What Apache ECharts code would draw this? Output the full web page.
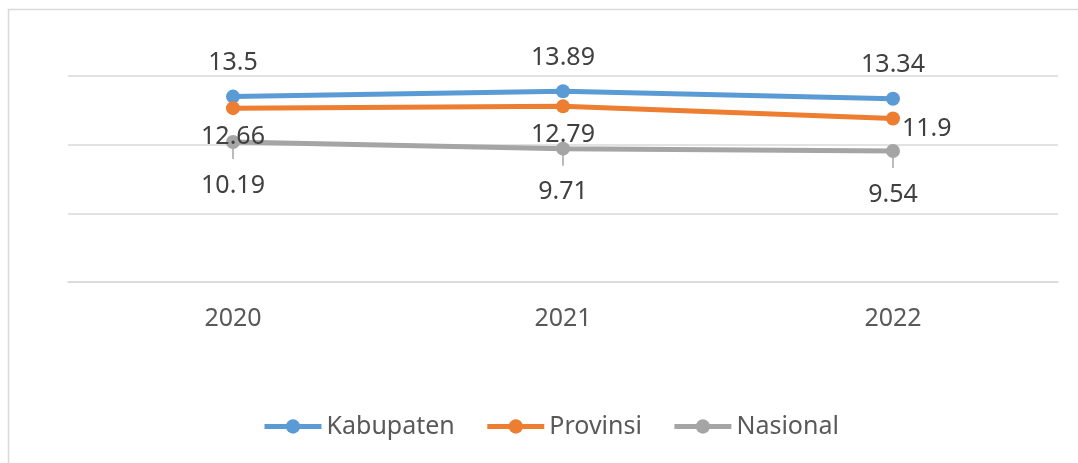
<!DOCTYPE html>
<html>
<head>
<meta charset="utf-8">
<script src="https://cdn.jsdelivr.net/npm/echarts@6/dist/echarts.min.js"></script>
<style>
  html, body { margin: 0; padding: 0; background: #fff; }
  #main { width: 1078px; height: 463px; }
</style>
</head>
<body>
<div id="main"></div>
<script>
// data
var years = ['2020', '2021', '2022'];
var kabupaten = [13.5, 13.89, 13.34];
var provinsi = [12.66, 12.79, 11.9];
var nasional = [10.19, 9.71, 9.54];

var FONT = 'Noto Sans';
var chart = echarts.init(document.getElementById('main'));

// label style shared by all series
function lbl(pos, dist) {
  return {
    show: true,
    position: pos,
    distance: dist,
    fontFamily: FONT,
    fontSize: 25,
    color: '#404040'
  };
}

function lineSeries(name, data, color, label) {
  return {
    name: name,
    type: 'line',
    data: data,
    symbol: 'circle',
    symbolSize: 14,
    color: color,
    lineStyle: { width: 5, color: color },
    itemStyle: { color: color },
    label: label,
    z: 3
  };
}

var sKab = lineSeries('Kabupaten', kabupaten, '#5B9BD5', lbl('top', 14));
var sProv = lineSeries('Provinsi', provinsi.map(function (v, i) {
  // last point label sits to the right
  if (i === 2) return { value: v, label: { position: 'right', distance: 2, offset: [0, 10] } };
  return v;
}), '#ED7D31', lbl('bottom', 9));
var sNas = lineSeries('Nasional', nasional, '#A5A5A5', lbl('bottom', 24));

// short leader lines under the Nasional labels
var sLeader = {
  name: 'leader',
  type: 'custom',
  data: nasional.map(function (v, i) { return [i, v]; }),
  silent: true,
  z: 2,
  renderItem: function (params, api) {
    var p = api.coord([api.value(0), api.value(1)]);
    return {
      type: 'line',
      shape: { x1: p[0], y1: p[1] + 6, x2: p[0], y2: p[1] + 17 },
      style: { stroke: '#A5A5A5', lineWidth: 1.5 }
    };
  }
};

chart.setOption({
  backgroundColor: '#fff',
  animation: false,
  graphic: [{
    type: 'rect',
    shape: { x: 8.5, y: 9.5, width: 1200, height: 600 },
    style: { fill: 'none', stroke: '#D9D9D9', lineWidth: 1.5 },
    silent: true,
    z: -1
  }],
  grid: { left: 68, right: 20, top: 76, bottom: 181 },
  legend: {
    top: 409,
    left: 257,
    itemWidth: 57,
    itemHeight: 18,
    itemGap: 30,
    lineStyle: { width: 5 },
    textStyle: { fontFamily: FONT, fontSize: 25, color: '#595959' },
    data: ['Kabupaten', 'Provinsi', 'Nasional']
  },
  xAxis: {
    type: 'category',
    data: years,
    boundaryGap: true,
    axisLine: { lineStyle: { color: '#D9D9D9', width: 1.5 } },
    axisTick: { show: false },
    axisLabel: { fontFamily: FONT, fontSize: 25, color: '#595959', margin: 24 }
  },
  yAxis: {
    type: 'value',
    min: 0,
    max: 15,
    interval: 5,
    axisLabel: { show: false },
    axisLine: { show: false },
    axisTick: { show: false },
    splitLine: { lineStyle: { color: '#D9D9D9', width: 1.5 } }
  },
  series: [sKab, sProv, sNas, sLeader]
});
</script>
</body>
</html>
